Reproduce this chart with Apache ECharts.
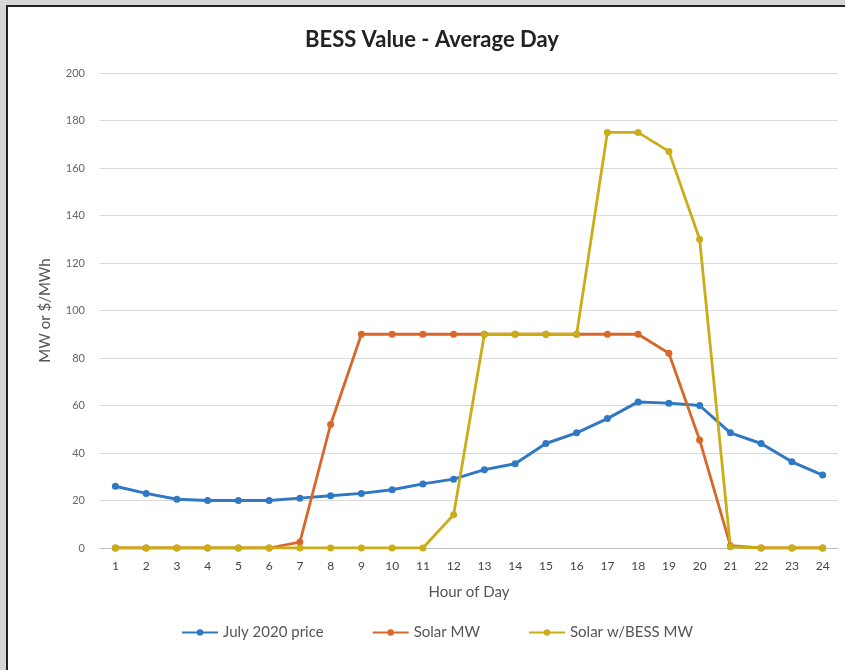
<!DOCTYPE html>
<html>
<head>
<meta charset="utf-8">
<script src="https://cdn.jsdelivr.net/npm/echarts@6/dist/echarts.min.js"></script>
<style>
html,body{margin:0;padding:0;background:#fff;}
#wrap{position:relative;width:845px;height:670px;overflow:hidden;}
#chart{position:absolute;left:0;top:0;width:845px;height:670px;}
.band{position:absolute;background:#d6d6d6;pointer-events:none;}
.edge{position:absolute;background:#222;pointer-events:none;}
</style>
</head>
<body>
<div id="wrap">
<div id="chart"></div>
<div class="band" style="left:0;top:0;width:845px;height:5px;"></div>
<div class="band" style="left:0;top:0;width:6px;height:670px;"></div>
<div class="edge" style="left:6px;top:5px;width:839px;height:2px;"></div>
<div class="edge" style="left:6px;top:5px;width:2px;height:665px;"></div>
</div>
<script>
const hours = ['1','2','3','4','5','6','7','8','9','10','11','12','13','14','15','16','17','18','19','20','21','22','23','24'];
const priceJuly2020 = [26, 23, 20.5, 20, 20, 20, 21, 22, 23, 24.5, 27, 29, 33, 35.5, 44, 48.5, 54.5, 61.5, 61, 60, 48.5, 44, 36.3, 30.7];
const solarMW = [0, 0, 0, 0, 0, 0, 2.5, 52, 90, 90, 90, 90, 90, 90, 90, 90, 90, 90, 82, 45.5, 1, 0, 0, 0];
const solarBessMW = [0, 0, 0, 0, 0, 0, 0, 0, 0, 0, 0, 14, 90, 90, 90, 90, 175, 175, 167, 130, 0.5, 0, 0, 0];
const seriesNames = ['July 2020 price', 'Solar MW', 'Solar w/BESS MW'];
const yTicks = {min: 0, max: 200, interval: 20};

const colors = ['#2f78c4', '#d8682a', '#cbad18'];
const font = 'Lato, "Liberation Sans", sans-serif';
const chart = echarts.init(document.getElementById('chart'));
function mk(name, data, color, w){
  return {
    name: name, type: 'line', data: data,
    symbol: 'circle', symbolSize: 7,
    lineStyle: {color: color, width: w},
    itemStyle: {color: color},
    emphasis: {disabled: true},
    animation: false
  };
}
chart.setOption({
  backgroundColor: '#fff',
  color: colors,
  textStyle: {fontFamily: font},
  title: {
    text: 'BESS Value - Average Day', left: 300, top: 24,
    textStyle: {fontFamily: font, fontSize: 22, fontWeight: 'bold', color: '#222'}
  },
  grid: {left: 100, right: 7, top: 73, bottom: 122},
  legend: {
    bottom: 25, left: 176, itemWidth: 36, itemHeight: 8, itemGap: 48,
    textStyle: {fontFamily: font, fontSize: 15, color: '#555'},
    data: seriesNames
  },
  xAxis: {
    type: 'category', data: hours, boundaryGap: true,
    name: 'Hour of Day', nameLocation: 'middle', nameGap: 37,
    nameTextStyle: {fontFamily: font, fontSize: 15, color: '#555'},
    axisLine: {lineStyle: {color: '#bfbfbf'}},
    axisTick: {show: false},
    axisLabel: {fontFamily: font, fontSize: 12, color: '#444', margin: 12}
  },
  yAxis: {
    type: 'value', min: yTicks.min, max: yTicks.max, interval: yTicks.interval,
    name: 'MW or $/MWh', nameLocation: 'middle', nameGap: 47,
    nameTextStyle: {fontFamily: font, fontSize: 15, color: '#555'},
    axisLine: {show: false}, axisTick: {show: false},
    axisLabel: {fontFamily: font, fontSize: 11, color: '#666', margin: 15},
    splitLine: {lineStyle: {color: '#d9d9d9', width: 1}}
  },
  series: [
    mk(seriesNames[0], priceJuly2020, colors[0], 3),
    mk(seriesNames[1], solarMW, colors[1], 2.8),
    mk(seriesNames[2], solarBessMW, colors[2], 2.8)
  ]
});
</script>
</body>
</html>
